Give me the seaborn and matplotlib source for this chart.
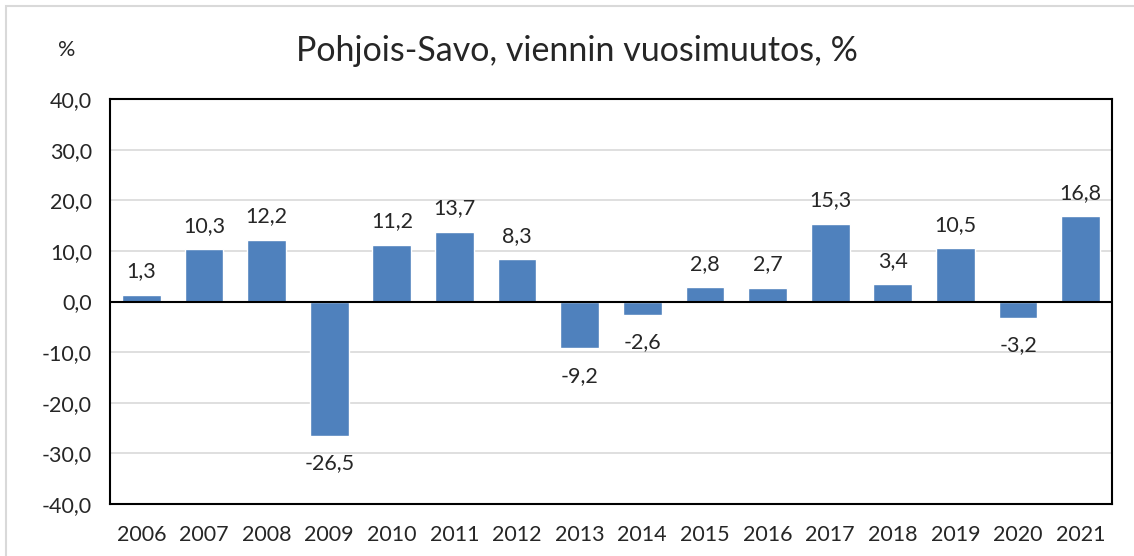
import numpy as np
import pandas as pd
import matplotlib
matplotlib.use('Agg')
import matplotlib.pyplot as plt
import seaborn as sns
from matplotlib.patches import Rectangle

years = ['2006', '2007', '2008', '2009', '2010', '2011', '2012', '2013',
         '2014', '2015', '2016', '2017', '2018', '2019', '2020', '2021']
change = [1.3, 10.3, 12.2, -26.5, 11.2, 13.7, 8.3, -9.2,
          -2.6, 2.8, 2.7, 15.3, 3.4, 10.5, -3.2, 16.8]
yticks = [-40, -30, -20, -10, 0, 10, 20, 30, 40]

data = pd.DataFrame({'year': years, 'change': change})

sns.set_style('white')
plt.rcParams['font.family'] = ['Lato', 'DejaVu Sans']
fs = 15.5

fig = plt.figure(figsize=(11.34, 5.56), dpi=100)
ax = fig.add_axes([110/1134, 1 - 504/556, (1112 - 110)/1134, (504 - 99)/556])

sns.barplot(data=data, x='year', y='change', color='#4F81BD', saturation=1,
            width=0.62, ax=ax, zorder=3)

ax.set_ylim(-40, 40)
ax.set_yticks(yticks)
ax.set_yticklabels([f'{v:.1f}'.replace('.', ',') for v in yticks], fontsize=fs)
ax.tick_params(axis='x', labelsize=fs, length=0, pad=15)
ax.tick_params(axis='y', length=0, pad=13)
ax.set_xlabel('')
ax.set_ylabel('')
ax.grid(axis='y', color='#D9D9D9', linewidth=1.2, zorder=0)
ax.axhline(0, color='black', linewidth=1.5, zorder=4)
for s in ax.spines.values():
    s.set_color('black')
    s.set_linewidth(1.5)
    s.set_visible(True)

for i, v in enumerate(change):
    txt = f'{v:.1f}'.replace('.', ',')
    if v >= 0:
        ax.annotate(txt, (i, v), xytext=(0, 17), textcoords='offset points',
                    ha='center', va='center', fontsize=fs)
    else:
        ax.annotate(txt, (i, v), xytext=(0, -20), textcoords='offset points',
                    ha='center', va='center', fontsize=fs)

fig.text(577/1134, 1 - 51/556, 'Pohjois-Savo, viennin vuosimuutos, %',
         ha='center', va='center', fontsize=24.5)
fig.text(67/1134, 1 - 50/556, '%', ha='center', va='center', fontsize=fs)

fig.patches.append(Rectangle((6/1134, -0.1), 1.2, 1 - 6/556 + 0.1,
                             transform=fig.transFigure, fill=False,
                             edgecolor='#D9D9D9', linewidth=1.5))

fig.savefig('out.png', dpi=100)
